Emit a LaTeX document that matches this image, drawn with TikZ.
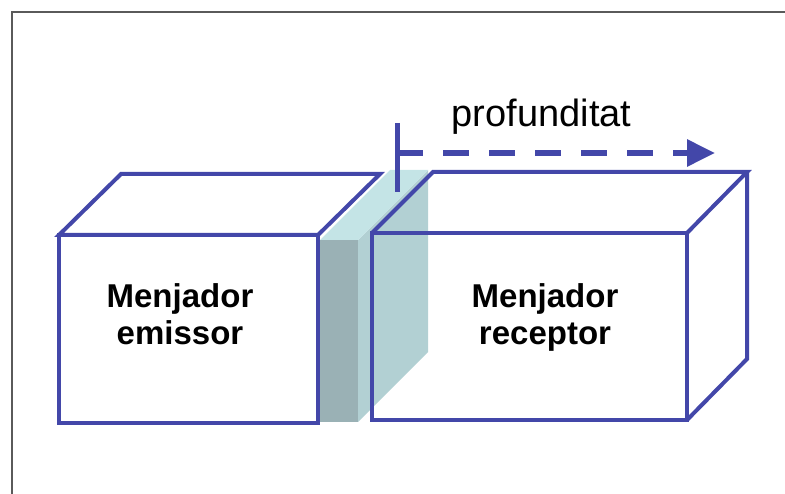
\documentclass[tikz,border=0pt]{standalone}
\usepackage{fontspec}
\setmainfont{Liberation Sans}
\usetikzlibrary{arrows.meta}
\definecolor{boxblue}{HTML}{4347A9}
\definecolor{slabtop}{HTML}{C4E4E6}
\definecolor{slabfront}{HTML}{9AB1B5}
\definecolor{slabside}{HTML}{B2D0D3}
\definecolor{framegray}{HTML}{5A5A5A}
\begin{document}
\begin{tikzpicture}[x=1pt,y=-1pt,
  edge/.style={draw=boxblue,line width=4pt,line join=miter},
  boxlabel/.style={font=\fontsize{33}{37}\selectfont\bfseries,align=center,inner sep=0pt,anchor=base},
  depthlabel/.style={font=\fontsize{38}{44}\selectfont,inner sep=0pt,anchor=base},
  depthline/.style={draw=boxblue,line width=6pt,dash pattern=on 26pt off 20pt,-{Triangle[length=28pt,width=26pt]}},
  marker/.style={draw=boxblue,line width=5pt}]
\useasboundingbox (0,0) rectangle (785,494);
% frame (top and left)
\draw[framegray,line width=2pt] (785,12) -- (12,12) -- (12,494);
% left box (emitter)
\filldraw[edge,fill=white] (59,235) -- (121,174) -- (380,174) -- (318,235) -- cycle;
\filldraw[edge,fill=white] (59,235) rectangle (318,423);
% slab
\fill[slabside] (358,240) -- (428,170) -- (428,352) -- (358,422) -- cycle;
\fill[slabtop] (320,240) -- (390,170) -- (428,170) -- (358,240) -- cycle;
\fill[slabfront] (320,240) rectangle (358,422);
% right box (receiver), outlines only
\draw[edge] (372,233) rectangle (687,420);
\draw[edge] (372,233) -- (433,172) -- (747,172) -- (687,233);
\draw[edge] (747,172) -- (747,359) -- (687,420);
% labels
\node[boxlabel] (emissor) at (180,345) {Menjador\\emissor};
\node[boxlabel] (receptor) at (545,345) {Menjador\\receptor};
% depth indicator
\coordinate (mtop) at (397,123);
\coordinate (mbot) at (397,192);
\coordinate (astart) at (397,153);
\coordinate (aend) at (715,153);
\draw[marker] (mtop) -- (mbot);
\draw[depthline] (astart) -- (aend);
\node[depthlabel] (prof) at (541.5,127) {profunditat};
\end{tikzpicture}
\end{document}
